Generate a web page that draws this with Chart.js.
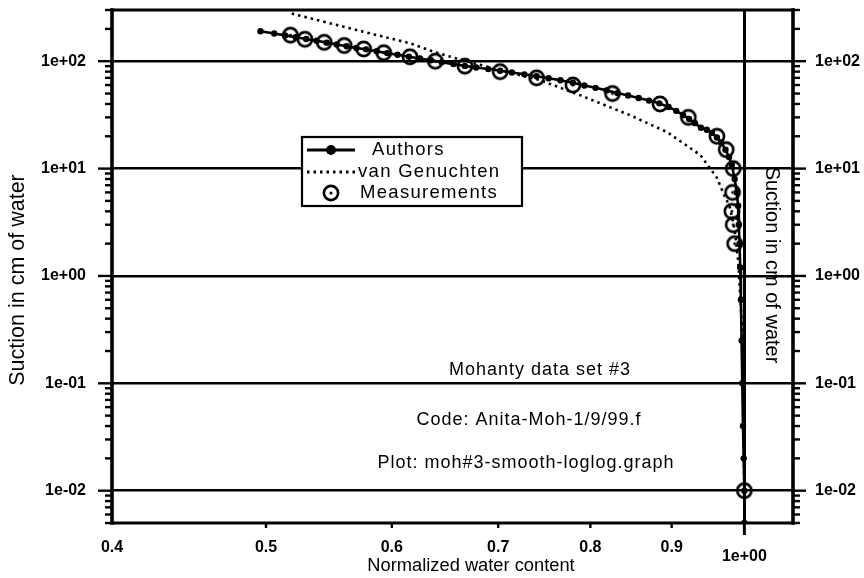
<!DOCTYPE html>
<html><head><meta charset="utf-8">
<script src="https://cdn.jsdelivr.net/npm/chart.js@4"></script>
<style>html,body{margin:0;padding:0;background:#fff}#c{display:block}</style>
</head><body>
<canvas id="c" width="864" height="578"></canvas>
<script>
const FONT = "'Liberation Sans', Arial, Helvetica, sans-serif";

// ---- data ----
const measuredWater   = [0.518,0.529,0.544,0.560,0.576,0.593,0.616,0.639,0.667,0.702,0.740,0.780,0.826,0.885,0.922,0.961,0.974,0.984,0.983,0.982,0.984,0.986,1.000];
const measuredSuction = [175,160,150,140,130,120,110,100,90,80,70,60,50,40,30,20,15,10,6,4,3,2,0.01];

const authorsWater   = [0.496,0.506,0.514,0.522,0.530,0.538,0.546,0.554,0.562,0.570,0.578,0.587,0.596,0.605,0.615,0.625,0.635,0.645,0.656,0.667,0.678,0.690,0.702,0.714,0.727,0.740,0.753,0.766,0.780,0.793,0.806,0.819,0.832,0.845,0.858,0.871,0.884,0.896,0.906,0.915,0.923,0.931,0.939,0.947,0.954,0.961,0.967,0.973,0.978,0.982,0.986,0.989,0.991,0.992,0.993,0.994,0.995,0.996,0.997,0.998,0.999,1.000,1.000];
const authorsSuction = [190,181,174,167,161,155,149,143,138,133,129,124,119,115,110,106,102,98,94,90.5,87.5,84.5,81.5,78.5,75.5,72.5,69.5,66.5,63,59.5,56.5,53.5,50.5,48,45.5,43,40.5,37.5,34.5,31.5,29,26.5,24,23,21.5,19.5,17.5,15,12.8,10.8,8,6,4.5,3,2,1.2,0.6,0.25,0.1,0.04,0.02,0.01,0.005];

const vgWater   = [0.519,0.549,0.581,0.616,0.639,0.665,0.702,0.744,0.788,0.847,0.894,0.938,0.961,0.970,0.979,0.986,0.991,0.996,0.998,1.000,1.000];
const vgSuction = [278,225,182,147,121,102,82.5,66.6,48.3,31.5,21.9,13.4,8.2,5.9,4.4,2.7,1.4,0.39,0.07,0.01,0.005];

const xTickValues = [0.4,0.5,0.6,0.7,0.8,0.9,1.0];
const xTickLabels = ['0.4','0.5','0.6','0.7','0.8','0.9','1e+00'];
const yTickValues = [0.01,0.1,1,10,100];
const yTickLabels = ['1e-02','1e-01','1e+00','1e+01','1e+02'];
const seriesNames = ['Authors','van Genuchten','Measurements'];
const xTitle = 'Normalized water content';
const yTitle = 'Suction in cm of water';
const notes = ['Mohanty data set #3','Code: Anita-Moh-1/9/99.f','Plot: moh#3-smooth-loglog.graph'];

const pts = (xs, ys) => xs.map((v, i) => ({x: v, y: ys[i]}));

function makeRing() {
  const c = document.createElement('canvas');
  c.width = 20; c.height = 20;
  const g = c.getContext('2d');
  g.strokeStyle = '#000'; g.lineWidth = 2.6;
  g.beginPath(); g.arc(10, 10, 7.1, 0, Math.PI * 2); g.stroke();
  g.fillStyle = '#000';
  g.beginPath(); g.arc(10, 10, 1.5, 0, Math.PI * 2); g.fill();
  return c;
}
const ring = makeRing();

function line(ctx, x1, y1, x2, y2) { ctx.beginPath(); ctx.moveTo(x1, y1); ctx.lineTo(x2, y2); ctx.stroke(); }
function setSpacing(ctx, s) { if ('letterSpacing' in ctx) ctx.letterSpacing = s; }

const decor = {
  id: 'decor',
  beforeDraw(chart) {
    const ctx = chart.ctx;
    ctx.save(); ctx.fillStyle = '#fff'; ctx.fillRect(0, 0, chart.width, chart.height); ctx.restore();
  },
  afterDatasetsDraw(chart) {
    const {ctx, chartArea: a, scales} = chart;
    const xs = scales.x, ys = scales.y;
    ctx.save();
    ctx.strokeStyle = '#000'; ctx.fillStyle = '#000'; ctx.lineCap = 'square';
    // frame
    ctx.lineWidth = 2.8;
    line(ctx, a.left, a.top, a.right, a.top);
    line(ctx, a.left, a.bottom, a.right, a.bottom);
    ctx.lineWidth = 3.6;
    line(ctx, a.left, a.top, a.left, a.bottom);
    line(ctx, a.right, a.top, a.right, a.bottom);
    ctx.lineCap = 'butt';
    // log ticks on both vertical axes
    ctx.lineWidth = 2.4;
    for (let k = -3; k <= 2; k++) {
      for (let m = 1; m <= 9; m++) {
        const v = m * Math.pow(10, k);
        if (v < ys.min * 0.999 || v > ys.max * 1.001) continue;
        const py = ys.getPixelForValue(v);
        line(ctx, a.left - (m === 1 ? 14 : 7), py, a.left, py);
        line(ctx, a.right, py, a.right + (m === 1 ? 13 : 7), py);
      }
    }
    // x ticks
    xTickValues.forEach((v, i) => {
      if (i === 0) return;
      const px = xs.getPixelForValue(v);
      const last = i === xTickValues.length - 1;
      ctx.lineWidth = last ? 3 : 2.4;
      line(ctx, px, a.bottom, px, a.bottom + (last ? 12 : 5));
    });
    // last x label (set lower in the original)
    ctx.font = 'bold 16px ' + FONT;
    ctx.textAlign = 'center'; ctx.textBaseline = 'middle';
    ctx.fillText(xTickLabels[xTickLabels.length - 1], xs.getPixelForValue(xTickValues[xTickValues.length - 1]), 557);

    // legend box
    const L = {x: 302, y: 137, w: 220, h: 69};
    ctx.fillStyle = '#fff';
    ctx.fillRect(L.x, L.y, L.w, L.h);
    ctx.fillStyle = '#000';
    ctx.lineWidth = 2.2;
    ctx.strokeRect(L.x, L.y, L.w, L.h);
    const rows = [150, 172, 193];
    ctx.lineWidth = 2.8;
    line(ctx, 307, rows[0], 355, rows[0]);
    ctx.beginPath(); ctx.arc(331, rows[0], 5, 0, Math.PI * 2); ctx.fill();
    ctx.setLineDash([2.5, 4]);
    line(ctx, 307, rows[1], 356, rows[1]);
    ctx.setLineDash([]);
    ctx.drawImage(ring, 331 - 10, rows[2] - 10);
    ctx.font = '18.5px ' + FONT;
    ctx.textAlign = 'left'; ctx.textBaseline = 'middle';
    setSpacing(ctx, '1.3px');
    ctx.fillText(seriesNames[0], 372, rows[0]);
    ctx.fillText(seriesNames[1], 358, rows[1]);
    ctx.fillText(seriesNames[2], 360, rows[2]);

    // notes
    ctx.font = '18px ' + FONT;
    ctx.textAlign = 'center';
    setSpacing(ctx, '1px');
    ctx.fillText(notes[0], 540, 370);
    ctx.fillText(notes[1], 529, 420);
    ctx.fillText(notes[2], 526, 463);

    // axis titles
    setSpacing(ctx, '0px');
    ctx.font = '18.3px ' + FONT;
    ctx.fillText(xTitle, 471, 566);
    ctx.save();
    ctx.font = '21.5px ' + FONT;
    ctx.translate(18, 280); ctx.rotate(-Math.PI / 2);
    ctx.fillText(yTitle, 0, 0);
    ctx.restore();
    ctx.save();
    ctx.font = '20px ' + FONT;
    ctx.translate(772, 265); ctx.rotate(Math.PI / 2);
    ctx.fillText(yTitle, 0, 0);
    ctx.restore();
    ctx.restore();
  }
};

const tickFont = {family: FONT, size: 16, weight: 'bold'};
const yLabel = (v) => { const i = yTickValues.findIndex(t => Math.abs(t - v) / t < 1e-6); return i >= 0 ? yTickLabels[i] : ''; };
const yTicks = (s) => { s.ticks = yTickValues.map(v => ({value: v})); };

new Chart(document.getElementById('c'), {
  type: 'scatter',
  data: {
    datasets: [
      {label: seriesNames[2], data: pts(measuredWater, measuredSuction), showLine: false,
       pointStyle: ring, pointRadius: 7, order: 0},
      {label: seriesNames[0], data: pts(authorsWater, authorsSuction), showLine: true,
       borderColor: '#000', borderWidth: 2.6, pointRadius: 3.2, pointBackgroundColor: '#000',
       pointBorderWidth: 0, tension: 0, order: 1},
      {label: seriesNames[1], data: pts(vgWater, vgSuction), showLine: true,
       borderColor: '#000', borderWidth: 2.6, borderDash: [2.5, 4], pointRadius: 0, tension: 0, order: 2}
    ]
  },
  options: {
    responsive: false, animation: false, devicePixelRatio: 1,
    layout: {padding: {top: 10, left: 0, right: 0, bottom: 0}},
    plugins: {legend: {display: false}, tooltip: {enabled: false}},
    scales: {
      x: {
        type: 'logarithmic', min: 0.4, max: 1.073,
        afterBuildTicks: (s) => { s.ticks = xTickValues.map(v => ({value: v})); },
        afterFit: (s) => { s.height = 55; },
        ticks: {autoSkip: false, maxRotation: 0, padding: 0, color: '#000', font: tickFont,
                callback: (v, i) => (i === xTickLabels.length - 1 ? '' : xTickLabels[i])},
        grid: {drawTicks: true, tickLength: 15, tickColor: 'rgba(0,0,0,0)', lineWidth: 3,
               color: (c) => (c.tick && Math.abs(c.tick.value - 1) < 1e-9 ? '#000' : 'rgba(0,0,0,0)')},
        border: {display: false}
      },
      y: {
        type: 'logarithmic', position: 'left', min: 0.005, max: 300,
        afterBuildTicks: yTicks,
        afterFit: (s) => { s.width = 112; },
        ticks: {autoSkip: false, padding: 0, color: '#000', font: tickFont, callback: yLabel},
        grid: {drawTicks: true, tickLength: 26, tickColor: 'rgba(0,0,0,0)', lineWidth: 2.5, color: '#000'},
        border: {display: false}
      },
      y2: {
        type: 'logarithmic', position: 'right', min: 0.005, max: 300,
        afterBuildTicks: yTicks,
        afterFit: (s) => { s.width = 71; },
        ticks: {autoSkip: false, padding: 0, color: '#000', font: tickFont, callback: yLabel},
        grid: {drawOnChartArea: false, drawTicks: true, tickLength: 22, tickColor: 'rgba(0,0,0,0)'},
        border: {display: false}
      }
    }
  },
  plugins: [decor]
});
</script>
</body></html>
